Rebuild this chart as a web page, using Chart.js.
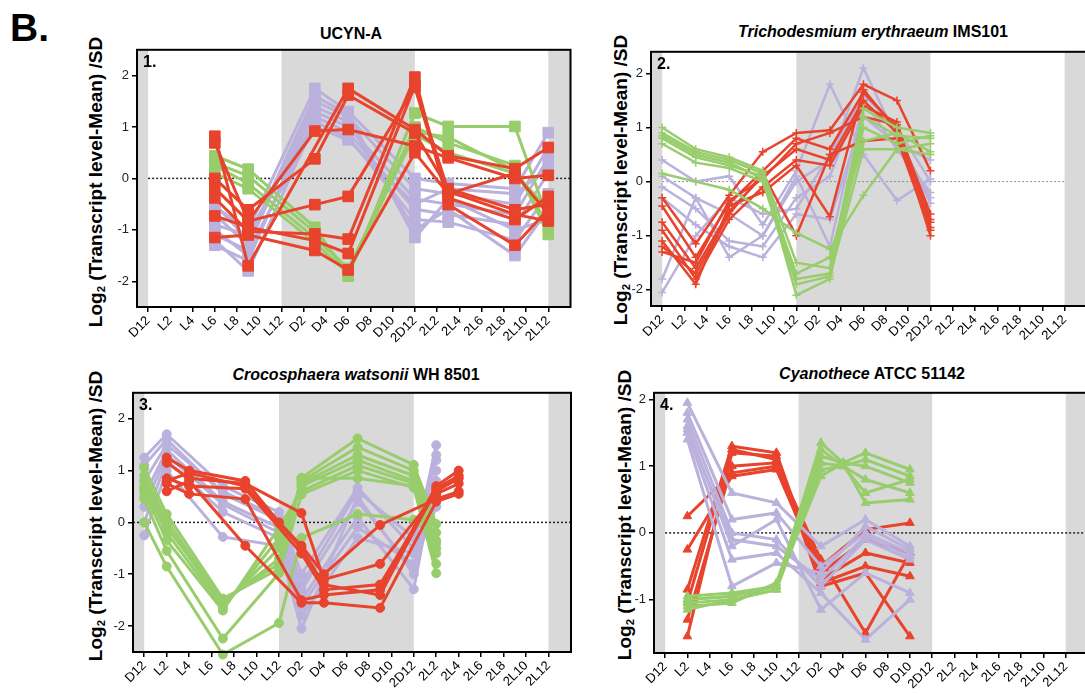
<!DOCTYPE html>
<html>
<head>
<meta charset="utf-8">
<script src="https://cdn.jsdelivr.net/npm/chart.js@4.4.0/dist/chart.umd.min.js"></script>
<style>
    html, body { margin: 0; padding: 0; }
    body {
        width: 1085px; height: 694px; position: relative; overflow: hidden;
        background: #fff; font-family: "Liberation Sans", Arial, sans-serif; color: #000;
    }
    canvas { position: absolute; }
    .title {
        position: absolute; font-weight: bold; font-size: 16px; line-height: 16px;
        white-space: nowrap; transform: translateX(-50%);
    }
    .ytitle {
        position: absolute; font-weight: bold; font-size: 19px; line-height: 19px;
        white-space: nowrap; transform: translate(-50%, -50%) rotate(-90deg);
    }
    .ytitle sub { font-size: 0.6em; vertical-align: -0.3em; line-height: 0; }
    .tag { position: absolute; left: 10px; top: 8px; font-weight: bold; font-size: 39px; line-height: 39px; }
</style>
</head>
<body>
<div class="tag">B.</div>

<div class="title" style="left:351px; top:26px">UCYN-A</div>
<div class="title" style="left:873px; top:24px"><i>Trichodesmium erythraeum</i> IMS101</div>
<div class="title" style="left:356px; top:367px"><i>Crocosphaera watsonii</i> WH 8501</div>
<div class="title" style="left:872px; top:366px"><i>Cyanothece</i> ATCC 51142</div>

<div class="ytitle" style="left:95px; top:182px">Log<sub>2</sub> (Transcript level-Mean) /SD</div>
<div class="ytitle" style="left:620px; top:180px">Log<sub>2</sub> (Transcript level-Mean) /SD</div>
<div class="ytitle" style="left:95px; top:516px">Log<sub>2</sub> (Transcript level-Mean) /SD</div>
<div class="ytitle" style="left:624px; top:515px">Log<sub>2</sub> (Transcript level-Mean) /SD</div>

<canvas id="ucyn"></canvas>
<canvas id="tricho"></canvas>
<canvas id="croco"></canvas>
<canvas id="cyano"></canvas>

<script>
// time axis, one tick every 2 h (index units)
const xLabels = ["D12", "L2", "L4", "L6", "L8", "L10", "L12", "D2", "D4", "D6", "D8", "D10",
    "2D12", "2L2", "2L4", "2L6", "2L8", "2L10", "2L12"];
const nightBands = [[-1, 0], [6, 12], [18, 20]];

// 1. UCYN-A
const ucynYTicks = [-2, -1, 0, 1, 2];
const ucynTimes = [3, 4.5, 7.5, 9, 12, 13.5, 16.5, 18];
const ucynRed = [
    [0.82, -1.70, null, 1.75, 0.95, 0.44, 0.19, 0.60],
    [0.69, -0.83, 0.92, 0.95, 0.63, 0.40, 0.00, 0.06],
    [0.00, -0.61, 0.38, 1.62, 0.88, -0.20, -0.61, -0.50],
    [-0.19, -0.83, -0.51, -0.35, 1.77, -0.38, -0.80, -0.35],
    [-0.38, -1.03, -1.08, -1.18, 1.97, -0.51, -1.30, -0.60],
    [-0.73, -0.95, -1.21, -1.46, 1.80, -0.25, -0.70, -0.83],
    [-1.15, -1.10, -1.40, -1.78, 0.50, -0.30, 0.10, -0.70]
];
const ucynGreen = [
    [0.44, 0.18, -0.95, -1.90, 1.27, 1.01, 1.01, -0.80],
    [0.30, 0.05, -1.05, -1.80, 1.00, 0.69, 0.25, -1.09],
    [0.25, -0.10, -1.15, -1.75, 0.85, 0.50, 0.10, -0.60],
    [0.10, -0.20, -1.25, -1.85, 0.90, 0.80, 0.15, -0.90]
];
const ucynPurple = [
    [-0.55, -1.00, 1.75, 1.30, 0.00, -0.10, -0.20, 0.89],
    [-0.70, -1.30, 1.50, 1.20, -0.20, -0.30, -0.50, 0.60],
    [-0.90, -1.10, 1.30, 1.00, -0.40, -0.50, -0.70, 0.40],
    [-1.00, -1.50, 1.20, 0.90, -0.60, -0.70, -0.90, 0.10],
    [-1.20, -1.80, 1.10, 0.80, -0.80, -0.85, -1.20, -0.30],
    [-1.30, -1.60, 1.40, 1.10, -1.00, -0.60, -1.50, -0.60],
    [-0.50, -1.20, 1.60, 1.25, -1.15, -0.40, -1.00, -0.80],
    [-1.10, -1.40, 1.00, 0.75, -0.50, -0.20, -0.30, 0.20]
];

// 2. Trichodesmium erythraeum IMS101
const trichoYTicks = [-2, -1, 0, 1, 2];
const trichoTimes = [0, 1.5, 3, 4.5, 6, 7.5, 9, 10.5, 12];
const trichoRed = [
    [-0.30, -1.15, -0.25, 0.55, 0.90, 0.95, 1.80, 1.50, 0.20],
    [-0.45, -1.40, -0.40, 0.20, 0.80, 0.60, 1.65, 1.00, -0.60],
    [-0.75, -1.60, -0.55, 0.10, 0.60, 0.40, 1.50, 0.90, -0.70],
    [-0.90, -1.80, -0.70, -0.10, 0.40, 0.30, 1.40, 1.10, -0.85],
    [-1.10, -1.90, -0.45, -0.20, 0.30, -0.65, 1.70, 0.95, -1.00],
    [-1.20, -1.70, -0.60, 0.15, -1.00, 0.50, 0.75, 0.80, -0.90],
    [-1.30, -1.50, -0.35, 0.05, 0.70, 0.90, 1.20, 1.05, -0.75]
];
const trichoGreen = [
    [1.00, 0.60, 0.45, 0.20, -1.50, -1.60, 1.35, 1.00, 0.90],
    [0.90, 0.55, 0.40, 0.15, -1.80, -1.70, 1.20, 0.85, 0.80],
    [0.80, 0.45, 0.30, 0.10, -2.10, -1.80, 1.00, 0.70, 0.85],
    [0.70, 0.35, 0.25, 0.00, -1.90, -1.75, 0.60, 0.60, 0.70],
    [0.85, 0.50, 0.35, 0.05, -1.70, -1.40, 0.75, 0.90, 0.55],
    [0.15, 0.00, -0.15, -0.50, -0.95, -1.25, -0.25, 0.60, 0.50]
];
const trichoPurple = [
    [0.40, 0.00, 0.10, -0.80, 0.20, 1.80, 0.50, -0.35, 0.05],
    [0.10, -0.30, -0.60, -1.00, 0.00, 0.40, 2.10, 0.80, -0.30],
    [-0.10, -0.50, -1.10, -1.20, -0.30, 0.10, 1.70, 0.90, -0.40],
    [-0.30, -0.80, -1.20, -1.40, -0.60, -0.70, 1.20, 0.70, 0.40],
    [-1.80, -0.30, -1.40, -1.00, 0.10, -1.20, 1.50, 0.60, -0.20],
    [-2.05, -1.00, -0.30, -0.60, -0.50, 0.50, 1.60, 1.00, 0.00]
];

// 3. Crocosphaera watsonii WH 8501
const crocoYTicks = [-2, -1, 0, 1, 2];
const crocoRedTimes = [1, 2, 4.5, 6, 7, 8, 10.5, 13, 14];
const crocoRed = [
    [1.25, 1.00, 0.80, 0.00, -0.45, -1.00, -0.05, 0.45, 0.60],
    [1.15, 0.85, 0.75, null, 0.18, -1.10, -0.80, 0.55, 0.75],
    [0.85, 0.70, 0.65, null, -0.60, -1.30, -1.20, 0.60, 0.85],
    [0.75, 0.55, 0.45, null, -1.50, -1.40, -1.30, 0.70, 1.00],
    [0.60, 0.80, -0.45, null, -1.55, -1.55, -1.65, 0.40, 0.55],
    [0.80, 0.95, 0.70, null, -0.50, -1.20, -1.40, 0.65, 0.90]
];
const crocoGreenTimes = [0, 1, 3.5, 6, 7, 9.5, 12, 13];
const crocoGreen = [
    [1.05, 0.16, -1.47, -0.90, 0.86, 1.62, 1.11, -0.03],
    [0.90, 0.05, -1.55, -0.70, 0.80, 1.45, 1.00, -0.20],
    [0.80, -0.05, -1.60, -0.50, 0.75, 1.30, 0.90, -0.40],
    [0.70, -0.20, -1.65, -0.30, 0.70, 1.20, 0.80, -0.60],
    [0.60, -0.35, -1.70, -0.10, 0.60, 1.10, 0.75, -0.80],
    [0.45, -0.55, -2.24, -0.98, 0.54, 1.00, 0.67, -0.98],
    [0.00, -0.85, -2.55, -1.94, -0.30, 0.16, 0.05, -0.35],
    [0.65, -0.10, -1.50, -0.80, 0.85, 0.85, 0.70, -0.50]
];
const crocoPurpleTimes = [0, 1, 3.5, 6, 7, 9.5, 12, 13];
const crocoPurple = [
    [1.25, 1.70, 0.70, 0.20, -1.00, 0.67, -0.50, 1.49],
    [1.10, 1.60, 0.55, 0.05, -1.30, 0.40, -0.90, 1.30],
    [0.50, 1.40, 0.40, -0.10, -1.50, 0.10, -1.29, 1.00],
    [0.00, 1.20, 0.20, -0.30, -1.80, -0.30, -0.60, 0.50],
    [-0.25, 1.00, -0.28, -0.45, -2.05, 0.50, -1.00, 0.80],
    [0.80, 1.50, 0.60, 0.10, -1.20, 0.60, -0.30, 1.20],
    [0.30, 1.30, 0.35, -0.20, -1.60, -0.10, -0.80, 0.30]
];

// 4. Cyanothece ATCC 51142
const cyanoYTicks = [-1, 0, 1, 2];
const cyanoTimes = [1, 3, 5, 7, 9, 11];
const cyanoRed = [
    [0.25, 0.90, 1.00, -0.50, 0.05, 0.15],
    [-0.25, 0.85, 0.95, -0.60, -0.10, -0.30],
    [-0.85, 1.30, 1.20, -0.70, -0.30, -0.45],
    [-1.05, 1.25, 1.10, -0.75, -0.50, -0.65],
    [-1.30, 1.00, 1.05, -0.40, -1.50, -0.30],
    [-1.55, 1.20, 1.15, -0.80, -0.60, -1.55]
];
const cyanoPurple = [
    [1.95, 0.60, 0.45, -0.20, 0.20, -0.20],
    [1.80, 0.20, 0.30, -0.50, 0.00, -0.30],
    [1.70, 0.00, -0.10, -0.80, -0.10, -0.40],
    [1.60, -0.20, 0.20, -1.15, -0.60, -0.90],
    [1.50, -0.40, -0.30, -0.90, -1.60, -1.00],
    [1.40, -0.80, -0.45, -0.60, 0.10, -0.25],
    [1.55, -0.10, -0.20, -0.70, -0.05, -0.35]
];
const cyanoGreenTimes = [1, 3, 5, 7, 8, 9, 11];
const cyanoGreen = [
    [-1.00, -0.95, -0.80, 1.35, 1.05, 1.20, 0.95],
    [-1.05, -1.00, -0.85, 1.25, 1.00, 1.10, 0.85],
    [-1.10, -1.05, -0.75, 1.15, 1.05, 1.00, 0.75],
    [-0.95, -0.90, -0.80, 1.05, 1.00, 0.80, 0.60],
    [-1.15, -1.00, -0.85, 0.95, 1.00, 0.60, 0.80],
    [-1.00, -0.95, -0.80, 0.85, 1.05, 0.45, 0.50]
];

const RED = "#e8432c";
const GREEN = "#98cd6c";
const PURPLE = "#bab1dc";
const YW = 30, XH = 45, PAD_T = 6, PAD_R = 8;

Chart.defaults.font.family = '"Liberation Sans", Arial, sans-serif';

// gray night bands, dotted zero line, frame and panel number
const backdrop = {
    id: "backdrop",
    beforeDatasetsDraw(chart, args, opts) {
        const { ctx, chartArea: a, scales: { x, y } } = chart;
        ctx.save();
        ctx.fillStyle = "#d9d9d9";
        nightBands.forEach(([s, e]) => {
            const x0 = Math.max(x.getPixelForValue(s), a.left);
            const x1 = Math.min(x.getPixelForValue(e), a.right);
            if (x1 > x0) ctx.fillRect(x0, a.top, x1 - x0, a.bottom - a.top);
        });
        const y0 = y.getPixelForValue(0);
        ctx.strokeStyle = opts.zeroColor;
        ctx.lineWidth = opts.zeroWidth;
        ctx.setLineDash([2, 2]);
        ctx.beginPath();
        ctx.moveTo(x.getPixelForValue(opts.zeroFrom), y0);
        ctx.lineTo(Math.min(x.getPixelForValue(opts.zeroTo), a.right), y0);
        ctx.stroke();
        ctx.restore();
    },
    afterDraw(chart, args, opts) {
        const { ctx, chartArea: a } = chart;
        ctx.save();
        ctx.strokeStyle = "#000";
        ctx.lineWidth = 2;
        ctx.strokeRect(a.left, a.top, a.right - a.left, a.bottom - a.top);
        ctx.fillStyle = "#000";
        ctx.font = 'bold 16px "Liberation Sans", Arial, sans-serif';
        ctx.textBaseline = "alphabetic";
        ctx.fillText(opts.tag, a.left + 6, a.top + 17);
        ctx.restore();
    }
};

function seriesSets(times, rows, color, look) {
    return rows.map(row => ({
        data: times.map((t, i) => ({ x: t, y: row[i] })).filter(p => p.y !== null),
        borderColor: color,
        backgroundColor: color,
        pointBackgroundColor: color,
        pointBorderColor: color,
        borderWidth: look.line,
        pointStyle: look.marker,
        pointRadius: look.size,
        pointBorderWidth: look.markerLine,
        tension: 0,
        clip: false
    }));
}

function makePanel(p) {
    const canvas = document.getElementById(p.id);
    const w = p.area.r - p.area.l + YW + PAD_R;
    const h = p.area.b - p.area.t + PAD_T + XH;
    canvas.width = w;
    canvas.height = h;
    canvas.style.width = w + "px";
    canvas.style.height = h + "px";
    canvas.style.left = (p.area.l - YW) + "px";
    canvas.style.top = (p.area.t - PAD_T) + "px";

    // groups listed bottom to top; Chart.js paints the first dataset last
    const datasets = p.groups
        .flatMap(([times, rows, color]) => seriesSets(times, rows, color, p.look))
        .reverse();

    return new Chart(canvas, {
        type: "line",
        data: { datasets: datasets },
        plugins: [backdrop],
        options: {
            responsive: false,
            animation: false,
            devicePixelRatio: 1,
            events: [],
            layout: { padding: { top: PAD_T, right: PAD_R, left: 0, bottom: 0 } },
            plugins: {
                legend: { display: false },
                tooltip: { enabled: false },
                backdrop: p.backdrop
            },
            scales: {
                x: {
                    type: "linear",
                    min: -0.5,
                    max: 19,
                    afterBuildTicks: s => { s.ticks = xLabels.map((_, i) => ({ value: i })); },
                    afterFit: s => { s.height = XH; },
                    ticks: {
                        autoSkip: false,
                        minRotation: 45,
                        maxRotation: 45,
                        padding: 1,
                        color: "#000",
                        font: { size: 13 },
                        callback: v => xLabels[v]
                    },
                    grid: { drawOnChartArea: false, drawTicks: true, tickLength: 5, color: "#000", lineWidth: 1.5 },
                    border: { display: false }
                },
                y: {
                    type: "linear",
                    min: p.yMin,
                    max: p.yMax,
                    afterBuildTicks: s => { s.ticks = p.yTicks.map(v => ({ value: v })); },
                    afterFit: s => { s.width = YW; },
                    ticks: { padding: 3, color: "#222", font: { size: 13 }, callback: v => String(v) },
                    grid: { drawOnChartArea: false, drawTicks: true, tickLength: 5, color: "#000", lineWidth: 1.5 },
                    border: { display: false }
                }
            }
        }
    });
}

makePanel({
    id: "ucyn",
    area: { l: 137, t: 45, r: 571, b: 307 },
    yMin: -2.5, yMax: 2.5, yTicks: ucynYTicks,
    look: { line: 3, marker: "rect", size: 7.5, markerLine: 1 },
    backdrop: { tag: "1.", zeroFrom: 0, zeroTo: 19, zeroColor: "#222", zeroWidth: 1.5 },
    groups: [[ucynTimes, ucynPurple, PURPLE], [ucynTimes, ucynGreen, GREEN], [ucynTimes, ucynRed, RED]]
});

makePanel({
    id: "tricho",
    area: { l: 651, t: 47, r: 1087, b: 306 },
    yMin: -2.3, yMax: 2.4, yTicks: trichoYTicks,
    look: { line: 2.5, marker: "cross", size: 4, markerLine: 1.5 },
    backdrop: { tag: "2.", zeroFrom: 0, zeroTo: 18, zeroColor: "#8c8c8c", zeroWidth: 1 },
    groups: [[trichoTimes, trichoPurple, PURPLE], [trichoTimes, trichoRed, RED], [trichoTimes, trichoGreen, GREEN]]
});

makePanel({
    id: "croco",
    area: { l: 133, t: 388, r: 571, b: 652 },
    yMin: -2.5, yMax: 2.5, yTicks: crocoYTicks,
    look: { line: 3, marker: "circle", size: 4.5, markerLine: 1 },
    backdrop: { tag: "3.", zeroFrom: -0.5, zeroTo: 19, zeroColor: "#222", zeroWidth: 1.5 },
    groups: [[crocoPurpleTimes, crocoPurple, PURPLE], [crocoGreenTimes, crocoGreen, GREEN], [crocoRedTimes, crocoRed, RED]]
});

makePanel({
    id: "cyano",
    area: { l: 654, t: 388, r: 1088, b: 653 },
    yMin: -1.8, yMax: 2.1, yTicks: cyanoYTicks,
    look: { line: 3, marker: "triangle", size: 5, markerLine: 1 },
    backdrop: { tag: "4.", zeroFrom: 0, zeroTo: 19, zeroColor: "#222", zeroWidth: 1.5 },
    groups: [[cyanoTimes, cyanoRed, RED], [cyanoTimes, cyanoPurple, PURPLE], [cyanoGreenTimes, cyanoGreen, GREEN]]
});
</script>
</body>
</html>
